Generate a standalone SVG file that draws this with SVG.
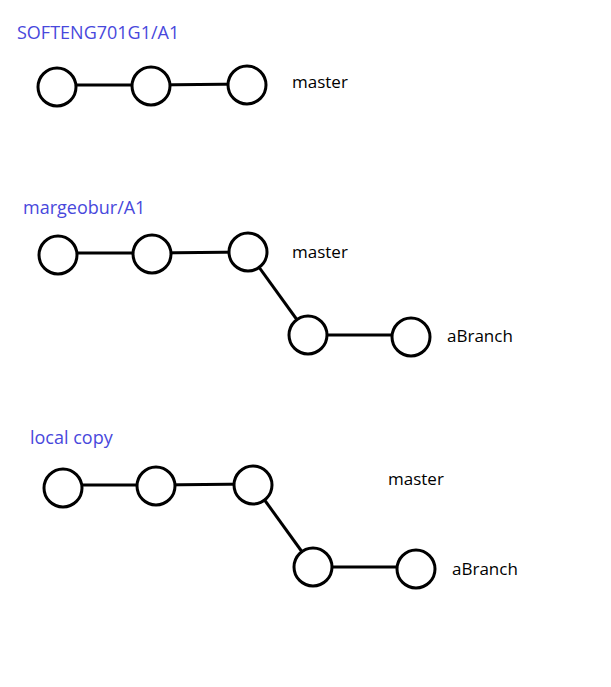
<svg xmlns="http://www.w3.org/2000/svg" width="611" height="687" viewBox="0 0 611 687">
<style>
.c{fill:#fff;stroke:#000;stroke-width:3}
.l{stroke:#000;stroke-width:3;fill:none}
.t{font-family:"Open Sans","Liberation Sans",sans-serif;font-size:17px;fill:#000}
.h{font-family:"Open Sans","Liberation Sans",sans-serif;font-size:18px;fill:#4848dc}
</style>
<rect width="611" height="687" fill="#fff"/>
<g id="connectors">
<line class="l" x1="57" y1="85" x2="151" y2="85"/>
<line class="l" x1="151" y1="85" x2="247" y2="84"/>
<line class="l" x1="58" y1="253" x2="152" y2="253"/>
<line class="l" x1="152" y1="253" x2="248" y2="252"/>
<line class="l" x1="248" y1="252" x2="308" y2="335"/>
<line class="l" x1="308" y1="335" x2="411" y2="335"/>
<line class="l" x1="63" y1="485" x2="156" y2="485"/>
<line class="l" x1="156" y1="485" x2="253" y2="484"/>
<line class="l" x1="253" y1="484" x2="313" y2="567"/>
<line class="l" x1="313" y1="567" x2="416" y2="567"/>
</g>
<g id="repo1">
<text class="h" x="17" y="39">SOFTENG701G1/A1</text>
<g id="r1n1"><circle class="c" cx="57" cy="87" r="19"/></g>
<g id="r1n2"><circle class="c" cx="151" cy="86" r="19"/></g>
<g id="r1n3"><circle class="c" cx="247" cy="85" r="19"/></g>
<text class="t" x="292" y="88">master</text>
</g>
<g id="repo2">
<text class="h" x="23" y="214">margeobur/A1</text>
<g id="r2n1"><circle class="c" cx="58" cy="255" r="19"/></g>
<g id="r2n2"><circle class="c" cx="152" cy="254" r="19"/></g>
<g id="r2n3"><circle class="c" cx="248" cy="252" r="19"/></g>
<g id="r2n4"><circle class="c" cx="308" cy="335" r="19"/></g>
<g id="r2n5"><circle class="c" cx="411" cy="337" r="19"/></g>
<text class="t" x="292" y="258">master</text>
<text class="t" x="447" y="342">aBranch</text>
</g>
<g id="repo3">
<text class="h" x="30" y="444">local copy</text>
<g id="r3n1"><circle class="c" cx="63" cy="488" r="19"/></g>
<g id="r3n2"><circle class="c" cx="156" cy="486" r="19"/></g>
<g id="r3n3"><circle class="c" cx="253" cy="485" r="19"/></g>
<g id="r3n4"><circle class="c" cx="313" cy="567" r="19"/></g>
<g id="r3n5"><circle class="c" cx="416" cy="569" r="19"/></g>
<text class="t" x="388" y="485">master</text>
<text class="t" x="452" y="575">aBranch</text>
</g>
</svg>
